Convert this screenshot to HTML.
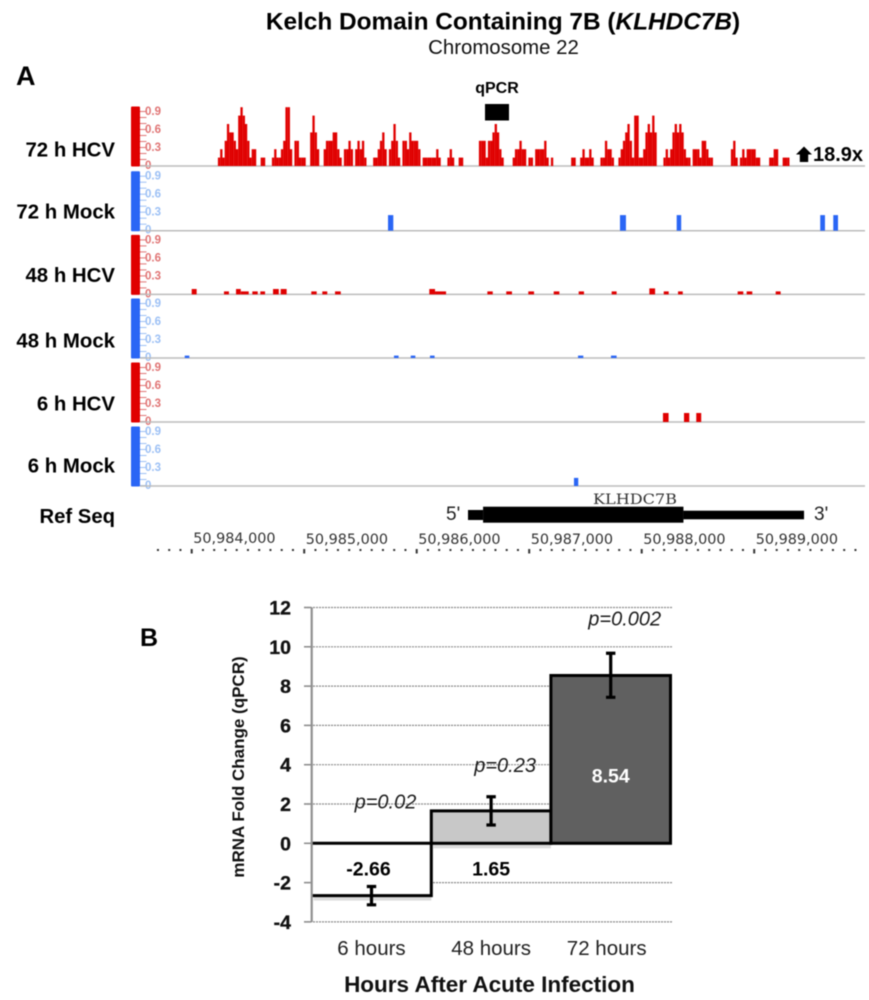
<!DOCTYPE html>
<html lang="en">
<head>
<meta charset="utf-8">
<title>KLHDC7B tracks and qPCR</title>
<style>
html,body{margin:0;padding:0;background:#fff;}
svg{display:block;font-family:"Liberation Sans",sans-serif;filter:blur(0.55px);}
</style>
</head>
<body>
<svg id="fig" xmlns="http://www.w3.org/2000/svg" width="869" height="1000" viewBox="0 0 869 1000">
  <rect x="0" y="0" width="869" height="1000" fill="#fff"/>
  <text x="503" y="29.5" text-anchor="middle" font-size="24.4" font-weight="bold" fill="#000">Kelch Domain Containing 7B (<tspan font-style="italic">KLHDC7B</tspan>)</text>
  <text x="503.5" y="54" text-anchor="middle" font-size="20.4" fill="#111">Chromosome 22</text>
  <text x="16" y="85" font-size="27" font-weight="bold" fill="#000">A</text>
  <text x="140" y="646" font-size="25" font-weight="bold" fill="#000">B</text>
  <text x="497" y="93" text-anchor="middle" font-size="16" font-weight="bold" fill="#000">qPCR</text>
  <rect x="485" y="104" width="24" height="16.5" fill="#000"/>
  <polygon points="804,146.5 812,154.5 808.2,154.5 808.2,162 799.8,162 799.8,154.5 796,154.5" fill="#000"/>
  <text x="813" y="161" font-size="20" font-weight="bold" fill="#000">18.9x</text>
  <g id="tracks"></g>
  <text x="115" y="523" text-anchor="end" font-size="20.3" font-weight="bold" fill="#000">Ref Seq</text>
  <text x="446" y="520" font-size="19" fill="#222">5'</text>
  <text x="814" y="520" font-size="19" fill="#222">3'</text>
  <text x="593" y="504" font-family="'DejaVu Serif',serif" font-size="14" textLength="84" lengthAdjust="spacingAndGlyphs" fill="#333">KLHDC7B</text>
  <g id="gene"></g>
  <g id="ruler"></g>
  <g id="chart"></g>
  <text transform="translate(244,767) rotate(-90)" text-anchor="middle" font-size="17" font-weight="bold" fill="#111">mRNA Fold Change (qPCR)</text>
  <text x="489.5" y="992" text-anchor="middle" font-size="22.5" font-weight="bold" fill="#111">Hours After Acute Infection</text>
</svg>
<script>
// Genome browser data: coverage bins are 20 bp, heights are read levels.
const binStartBp = 50984233;
const binSizeBp = 20;
const levelValue = 0.14;
const hcv72Levels = [
1,2,1,3,5,4,4,3,2,6, 7,6,5,3,1,2,2,0,0,1, 1,0,0,0,1,2,1,1,2,3,
7,7,2,0,3,3,1,1,1,0, 0,4,6,4,2,0,0,2,3,3, 3,4,4,2,1,0,2,2,3,2,
0,2,3,2,3,1,0,0,0,1, 1,2,3,4,2,0,2,3,5,3, 1,0,3,3,2,4,3,3,3,2,
0,1,1,1,1,1,1,2,1,0, 0,0,1,2,1,0,0,1,1,0, 0,0,0,0,0,0,3,3,3,1,
3,3,4,5,4,2,1,0,0,0, 0,1,2,2,3,2,2,0,1,1, 0,2,2,2,2,3,1,0,1,0,
0,0,0,0,0,0,0,1,1,0, 0,1,2,1,1,2,1,0,0,0, 1,1,3,2,2,1,0,0,1,2,
3,4,5,3,1,6,6,1,1,2, 4,5,4,6,4,0,0,0,1,2, 1,2,4,5,4,5,4,2,1,1,
0,2,2,2,1,3,3,2,1,1, 0,0,0,0,0,0,0,0,2,3, 1,0,1,2,1,2,2,2,2,1,
1,0,0,0,0,1,1,2,2,0, 0,1,1,1];

const mock72Starts = [50985745,50987807,50988311,50989587,50989703];
const mock72Spans = [47,53,40,42,42];
const mock72Values = [0.26,0.26,0.26,0.26,0.26];

const hcv48Starts = [50984000,50984287,50984394,50984436,50984539,50984610,50984723,50984791,50985063,50985161,50985274,50986112,50986163,50986628,50986796,50986992,50987218,50987440,50987733,50988068,50988196,50988323,50988853,50988933,50989191];
const hcv48Spans = [44,44,42,71,48,42,51,53,48,44,51,51,98,48,51,51,50,47,44,51,44,42,50,50,44];
const hcv48Values = [0.09,0.05,0.09,0.05,0.05,0.05,0.09,0.09,0.05,0.05,0.05,0.09,0.05,0.05,0.05,0.05,0.05,0.05,0.05,0.1,0.05,0.05,0.05,0.05,0.05];

const mock48Starts = [50983938,50985798,50985947,50986118,50987434,50987727];
const mock48Spans = [41,41,41,41,47,50];
const mock48Values = [0.04,0.04,0.04,0.04,0.04,0.04];

const hcv6Starts = [50988189,50988376,50988485];
const hcv6Spans = [50,47,44];
const hcv6Values = [0.15,0.15,0.15];

const mock6Starts = [50987398];
const mock6Spans = [38];
const mock6Values = [0.135];

const axisTickLabels = ['0','0.3','0.6','0.9'];
const axisTickValues = [0,0.3,0.6,0.9];
const rulerTicks = [50984000,50985000,50986000,50987000,50988000,50989000];
const rulerLabels = ['50,984,000','50,985,000','50,986,000','50,987,000','50,988,000','50,989,000'];
const geneStartBp = 50986456;
const geneCdsStartBp = 50986590;
const geneCdsEndBp = 50988371;
const geneEndBp = 50989443;

// qPCR chart data
const categories = ['6 hours','48 hours','72 hours'];
const foldChange = [-2.66,1.65,8.54];
const errorHigh = [-2.2,2.37,9.67];
const errorLow = [-3.13,0.93,7.43];
const pValues = ['p=0.02','p=0.23','p=0.002'];
const barFills = ['#ffffff','#c8c8c8','#606060'];
const yTicks = [-4,-2,0,2,4,6,8,10,12];

const NS = 'http://www.w3.org/2000/svg';
function mk(parent, tag, attrs, txt) {
  const el = document.createElementNS(NS, tag);
  for (const k in attrs) el.setAttribute(k, attrs[k]);
  if (txt !== undefined) el.textContent = txt;
  parent.appendChild(el);
  return el;
}

// Axis functions
function xGenome(bp) { return 191.7 + (bp - 50984000) * 0.1125; }
function yTrack(base, v) { return base - v * 60; }
function yFold(v) { return 843.3 - v * 19.65; }
function xBand(i) { return 311.7 + i * 119.6; }
const bandWidth = 119.6;

const RED = '#e00000', BLUE = '#2a66f5';
const tracksG = document.getElementById('tracks');

function drawFrame(key, label, base, labelY, color, pale) {
  const g = mk(tracksG, 'g', {});
  
  
  const scale = mk(g, 'rect', {x:131, y:base-59.5, width:9, height:60, fill:color, rx:1});
  
  
  for (let t = 0; t <= 9; t++) {
    const yy = yTrack(base, t / 10) - 0.5;
    const tick = mk(g, 'line', {x1:140, x2:146.5, y1:yy, y2:yy, stroke:pale, 'stroke-width':1});
    
    
  }
  axisTickValues.forEach((v, i) => {
    const lbl = mk(g, 'text', {x:145, y:yTrack(base, v) + 3, 'font-size':11.5, 'font-weight':'bold', fill:pale}, axisTickLabels[i]);
    
    
  });
  const bl = mk(g, 'line', {x1:140, x2:865, y1:base, y2:base, stroke:'#bcbcbc', 'stroke-width':1.5});
  
  
  const name = mk(g, 'text', {x:115, y:labelY, 'text-anchor':'end', 'font-size':20.4, 'font-weight':'bold', fill:'#000'}, label);
  
  
  return g;
}

function drawFeatures(g, key, base, color, starts, spans, values) {
  starts.forEach((s, i) => {
    const x = xGenome(s);
    const y = yTrack(base, values[i]);
    const r = mk(g, 'rect', {x:x, y:y, width:xGenome(s + spans[i]) - x, height:base - y, fill:color});
    
    
  });
}

const t1 = drawFrame('hcv-72h', '72 h HCV', 166, 156.7, RED, '#e07474');
hcv72Levels.forEach((lv, i) => {
  if (!lv) return;
  const bp = binStartBp + i * binSizeBp;
  const x = xGenome(bp);
  const y = yTrack(166, lv * levelValue);
  const r = mk(t1, 'rect', {x:x, y:y, width:xGenome(bp + binSizeBp) - x + 0.05, height:166 - y, fill:RED});
  
  
});
const t2 = drawFrame('mock-72h', '72 h Mock', 230.7, 218.4, BLUE, '#9cc0f5');
drawFeatures(t2, 'mock-72h', 230.7, BLUE, mock72Starts, mock72Spans, mock72Values);
const t3 = drawFrame('hcv-48h', '48 h HCV', 294.4, 282, RED, '#e07474');
drawFeatures(t3, 'hcv-48h', 294.4, RED, hcv48Starts, hcv48Spans, hcv48Values);
const t4 = drawFrame('mock-48h', '48 h Mock', 358, 347.7, BLUE, '#9cc0f5');
drawFeatures(t4, 'mock-48h', 358, BLUE, mock48Starts, mock48Spans, mock48Values);
const t5 = drawFrame('hcv-6h', '6 h HCV', 422, 410.7, RED, '#e07474');
drawFeatures(t5, 'hcv-6h', 422, RED, hcv6Starts, hcv6Spans, hcv6Values);
const t6 = drawFrame('mock-6h', '6 h Mock', 486, 472.7, BLUE, '#9cc0f5');
drawFeatures(t6, 'mock-6h', 486, BLUE, mock6Starts, mock6Spans, mock6Values);

// Gene model
const geneG = document.getElementById('gene');
const utr5 = mk(geneG, 'rect', {x:xGenome(geneStartBp), y:510, width:xGenome(geneCdsStartBp) - xGenome(geneStartBp), height:10, fill:'#000'});


const cds = mk(geneG, 'rect', {x:xGenome(geneCdsStartBp), y:506.7, width:xGenome(geneCdsEndBp) - xGenome(geneCdsStartBp), height:16, fill:'#000'});


const utr3 = mk(geneG, 'rect', {x:xGenome(geneCdsEndBp), y:510.7, width:xGenome(geneEndBp) - xGenome(geneCdsEndBp), height:8.6, fill:'#000'});



// Ruler
const rulerG = document.getElementById('ruler');
for (let bp = 50983700; bp <= 50989900; bp += 100) {
  const major = (bp % 1000) === 0;
  const d = mk(rulerG, 'rect', {x:xGenome(bp) - 1, y:549, width:2, height:major ? 4.5 : 2, fill:'#333'});
  
  
}
rulerTicks.forEach((bp, i) => {
  const t = mk(rulerG, 'text', {x:xGenome(bp) + 1.5, y:i === 0 ? 543 : 544, 'font-family':"'DejaVu Sans',sans-serif", 'font-size':14.4, fill:'#333'}, rulerLabels[i]);
  
  
});

// Bar chart
const chartG = document.getElementById('chart');
yTicks.forEach(v => {
  const y = yFold(v);
  if (v !== 0) {
    const gl = mk(chartG, 'line', {x1:304, x2:672, y1:y, y2:y, stroke:'#8a8a8a', 'stroke-width':1.2, 'stroke-dasharray':'2 1'});
    
    
  }
  const tk = mk(chartG, 'line', {x1:304, x2:311, y1:y, y2:y, stroke:'#8a8a8a', 'stroke-width':1.5});
  
  
  const lb = mk(chartG, 'text', {x:291, y:y + 7, 'text-anchor':'end', 'font-size':19.5, 'font-weight':'bold', fill:'#111', stroke:'#111', 'stroke-width':0.3}, String(v));
  
  
});

foldChange.forEach((v, i) => {
  const x = xBand(i);
  const y0 = yFold(Math.max(v, 0));
  const y1 = yFold(Math.min(v, 0));
  if (i < 2) {
    const sh = mk(chartG, 'rect', {x:x + 2, y:y1 + 1, width:bandWidth - 2, height:4, fill:'#dcdcdc'});
    
    
  }
  const bar = mk(chartG, 'rect', {x:x, y:y0, width:bandWidth, height:y1 - y0, fill:barFills[i], stroke:v < 0 ? 'none' : '#000', 'stroke-width':3});
  
  
  if (v < 0) {
    const outline = mk(chartG, 'path', {d:'M' + x + ' ' + y0 + 'H' + (x + bandWidth) + 'V' + y1 + 'H' + x, fill:'none', stroke:'#000', 'stroke-width':3});
    
    
  }
});

const yAxis = mk(chartG, 'line', {x1:311.7, x2:311.7, y1:yFold(12), y2:yFold(-4), stroke:'#8f8f8f', 'stroke-width':2.2});



foldChange.forEach((v, i) => {
  const cx = xBand(i) + bandWidth / 2;
  const hi = yFold(errorHigh[i]);
  const lo = yFold(errorLow[i]);
  const stem = mk(chartG, 'path', {d:'M' + (cx - 4.7) + ' ' + hi + 'H' + (cx + 4.7) + 'M' + cx + ' ' + hi + 'V' + lo + 'M' + (cx - 4.7) + ' ' + lo + 'H' + (cx + 4.7), fill:'none', stroke:'#000', 'stroke-width':3.2});
  
  

  const vy = i < 2 ? yFold(0) + 32 : yFold(v) + 107;
  const vx = i === 0 ? cx - 3 : cx;
  const val = mk(chartG, 'text', {x:vx, y:vy, 'text-anchor':'middle', 'font-size':19.5, 'font-weight':'bold', fill:i === 2 ? '#fff' : '#000'}, v.toFixed(2));
  
  

  const py = i === 0 ? yFold(0) - 35 : (i === 1 ? hi - 24.5 : hi - 28);
  const pt = mk(chartG, 'text', {x:cx + 14, y:py, 'text-anchor':'middle', 'font-size':20, 'font-style':'italic', fill:'#1c1c1c'}, pValues[i]);
  
  

  const cat = mk(chartG, 'text', {x:i === 2 ? cx - 4 : cx, y:955, 'text-anchor':'middle', 'font-size':20.5, fill:'#222'}, categories[i]);
  
  
});
</script>
</body>
</html>
